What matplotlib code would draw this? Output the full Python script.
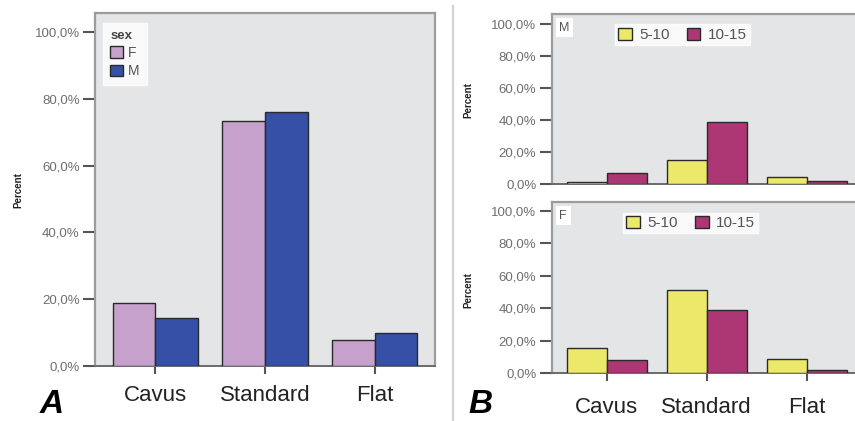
"""Foot type by sex (A) and by age group within each sex (B), redrawn as two
SPSS-style clustered bar panels side by side."""
import matplotlib

matplotlib.use("Agg")
import matplotlib.pyplot as plt
from matplotlib.lines import Line2D
from matplotlib.patches import Patch

plt.rcParams["font.family"] = ["Liberation Sans", "DejaVu Sans"]

CATEGORIES = ["Cavus", "Standard", "Flat"]
SEX_F = [19.0, 73.4, 7.8]
SEX_M = [14.5, 76.0, 9.8]
M_AGE_5_10 = [1.5, 15.0, 4.6]
M_AGE_10_15 = [7.1, 38.6, 2.1]
F_AGE_5_10 = [15.6, 51.0, 8.8]
F_AGE_10_15 = [8.4, 38.8, 2.2]
Y_TICKS = [0, 20, 40, 60, 80, 100]
Y_TICK_LABELS = ["0,0%", "20,0%", "40,0%", "60,0%", "80,0%", "100,0%"]

W, H = 855, 421
BG = "#e4e5e7"
FRAME = "#9c9c9c"
COL_F, COL_M = "#c6a1cc", "#3550a6"
COL_YOUNG, COL_OLD = "#ebe86a", "#ad3775"


def px_axes(fig, left, top, right, bottom):
    # place an axes from pixel edges (origin top-left)
    return fig.add_axes([left / W, 1 - bottom / H, (right - left) / W, (bottom - top) / H])


def style_axes(ax, xlim, ymax, show_xticks=True, xlabel_pad=8):
    ax.set_facecolor(BG)
    ax.set_xlim(*xlim)
    ax.set_ylim(0, ymax)
    for side in ("top", "left", "right"):
        ax.spines[side].set_color(FRAME)
        ax.spines[side].set_linewidth(1.6)
    ax.spines["bottom"].set_color("#6a6a6a")
    ax.spines["bottom"].set_linewidth(1.4)
    ax.set_yticks(Y_TICKS)
    ax.set_yticklabels(Y_TICK_LABELS)
    ax.tick_params(axis="y", length=9, width=1.5, color="#555555", pad=2,
                   labelsize=9.5, labelcolor="#6e6e6e")
    ax.set_xticks(range(len(CATEGORIES)))
    if show_xticks:
        ax.set_xticklabels(CATEGORIES)
        ax.tick_params(axis="x", length=6, width=1.5, color="#555555", pad=xlabel_pad,
                       labelsize=16, labelcolor="#222222")
    else:
        ax.set_xticklabels([])
        ax.tick_params(axis="x", length=0)


def bars(ax, left_vals, right_vals, c_left, c_right, width):
    x = range(len(CATEGORIES))
    ax.bar([i - width / 2 for i in x], left_vals, width, color=c_left,
           edgecolor="#2a2a2a", linewidth=1.0, zorder=3)
    ax.bar([i + width / 2 for i in x], right_vals, width, color=c_right,
           edgecolor="#2a2a2a", linewidth=1.0, zorder=3)


def swatch(color):
    return Patch(facecolor=color, edgecolor="#2a2a2a", linewidth=1.0)


def age_legend(ax, anchor):
    leg = ax.legend([swatch(COL_YOUNG), swatch(COL_OLD)], ["5-10", "10-15"], ncol=2,
                    loc="upper left", bbox_to_anchor=anchor, frameon=True, fancybox=False,
                    fontsize=11, handlelength=0.9, handleheight=0.9, handletextpad=0.5,
                    columnspacing=1.1, borderpad=0.2, borderaxespad=0)
    leg.get_frame().set_facecolor("white")
    leg.get_frame().set_edgecolor("white")
    for t in leg.get_texts():
        t.set_color("#555555")


def main():
    fig = plt.figure(figsize=(W / 100, H / 100), dpi=100)

    # panel A: sex
    ax_a = px_axes(fig, 95, 13, 435, 366)
    style_axes(ax_a, (-0.55, 2.55), 105.7, xlabel_pad=8)
    bars(ax_a, SEX_F, SEX_M, COL_F, COL_M, 0.39)
    leg = ax_a.legend([swatch(COL_F), swatch(COL_M)], ["F", "M"], title="sex",
                      loc="upper left", bbox_to_anchor=(0.024, 0.972), frameon=True,
                      fancybox=False, fontsize=10, handlelength=0.9, handleheight=0.9,
                      handletextpad=0.4, borderpad=0.5, labelspacing=0.3, borderaxespad=0)
    leg.get_title().set_fontweight("bold")
    leg.get_title().set_fontsize(9.5)
    leg.get_title().set_color("#444444")
    leg._legend_box.align = "left"
    leg.get_frame().set_facecolor("white")
    leg.get_frame().set_edgecolor("white")
    for t in leg.get_texts():
        t.set_color("#555555")

    # panel B: age groups, males on top, females below
    ax_bm = px_axes(fig, 551.7, 14.3, 860, 184)
    style_axes(ax_bm, (-0.55, 2.533), 106, show_xticks=False)
    bars(ax_bm, M_AGE_5_10, M_AGE_10_15, COL_YOUNG, COL_OLD, 0.4)
    age_legend(ax_bm, (0.205, 0.94))

    ax_bf = px_axes(fig, 551.7, 202.3, 860, 373.3)
    style_axes(ax_bf, (-0.55, 2.533), 105.2, xlabel_pad=11)
    bars(ax_bf, F_AGE_5_10, F_AGE_10_15, COL_YOUNG, COL_OLD, 0.4)
    age_legend(ax_bf, (0.232, 0.94))

    for ax, label in ((ax_bm, "M"), (ax_bf, "F")):
        ax.text(0.025, 0.955, label, transform=ax.transAxes, ha="left", va="top",
                fontsize=9, color="#555555",
                bbox=dict(facecolor="white", edgecolor="none", pad=2.5))

    # y labels, panel letters and the divider between panels
    for x, y in ((18, 190), (468, 100), (468, 290)):
        fig.text(x / W, 1 - y / H, "Percent", rotation=90, ha="center", va="center",
                 fontsize=7, fontweight="bold", color="#222222")
    fig.text(40 / W, 1 - 413 / H, "A", fontsize=24, fontweight="bold", fontstyle="italic",
             ha="left", va="baseline")
    fig.text(468 / W, 1 - 413 / H, "B", fontsize=24, fontweight="bold", fontstyle="italic",
             ha="left", va="baseline")
    fig.add_artist(Line2D([453 / W, 453 / W], [0, 0.985], transform=fig.transFigure,
                          color="#d2d2d2", linewidth=1.6))

    fig.savefig("out.png", dpi=100)


if __name__ == "__main__":
    main()
